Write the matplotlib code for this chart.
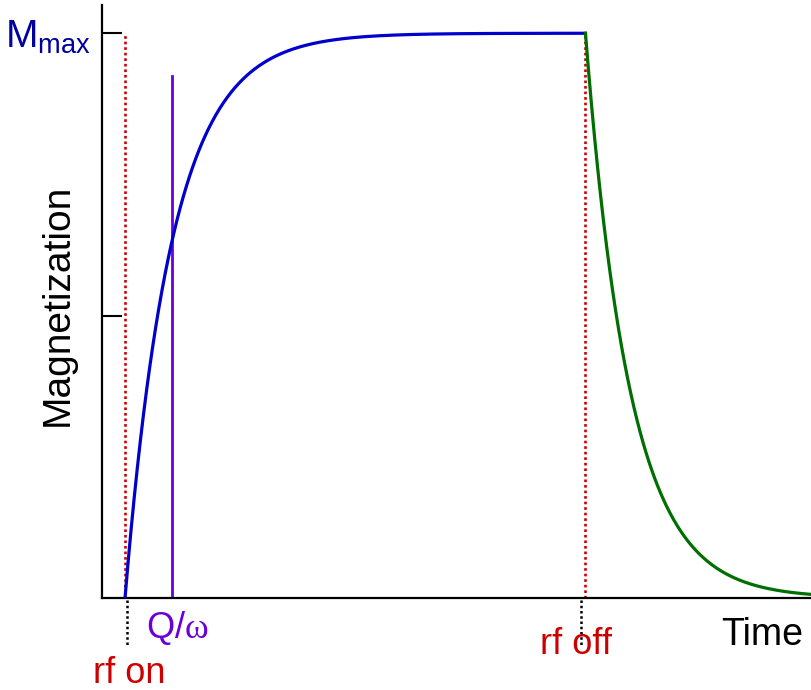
import matplotlib.pyplot as plt
import numpy as np

plt.rcParams['font.family'] = ['Liberation Sans', 'DejaVu Sans']
plt.rcParams['mathtext.fontset'] = 'custom'
plt.rcParams['mathtext.rm'] = 'Liberation Sans'
plt.rcParams['mathtext.it'] = 'Liberation Serif'

# Времена в единицах постоянной времени накачки
rf_on = 0.0
rf_off = 9.8
tau_rise = 1.0      # Q/omega
tau_fall = 0.95
m_max = 1.0
q_line_top = 0.924

t_start, t_end = -0.49, 14.6

t_rise = np.linspace(rf_on, rf_off, 600)
m_rise = m_max * (1 - np.exp(-(t_rise - rf_on) / tau_rise))
t_fall = np.linspace(rf_off, t_end, 300)
m_fall = m_rise[-1] * np.exp(-(t_fall - rf_off) / tau_fall)

fig = plt.figure(figsize=(8.11, 6.90), dpi=100)
ax = fig.add_axes([102 / 811, 92 / 690, 709 / 811, 593 / 690])

ax.plot(t_rise, m_rise, color='#0000cc', lw=2.3, zorder=3)
ax.plot(t_fall, m_fall, color='#006e00', lw=2.3, zorder=3)

# Красные пунктиры: включение и выключение накачки
for t in (rf_on, rf_off):
    ax.plot([t, t], [0, m_max], color='#cc0000', lw=1.9,
            linestyle=(0, (1, 1.1)), zorder=2)

# Фиолетовая отметка Q/omega
ax.plot([rf_on + tau_rise] * 2, [0, q_line_top], color='#6a00d8', lw=2.0, zorder=2)

ax.set_xlim(t_start, t_end)
ax.set_ylim(0, 1.05)

ax.spines['top'].set_visible(False)
ax.spines['right'].set_visible(False)
for side in ('left', 'bottom'):
    ax.spines[side].set_linewidth(1.6)

ax.set_xticks([])
ax.set_yticks([0.5, m_max])
ax.set_yticklabels(['', r'$\mathregular{M_{max}}$'], color='#0000a0', fontsize=28)
ax.tick_params(axis='y', direction='in', length=14.5, width=1.5, pad=8)

ax.set_ylabel('Magnetization', fontsize=28)
ax.yaxis.set_label_coords(-0.037, 0.495)

trans = ax.get_xaxis_transform()
# Черные пунктирные засечки под осью
for t in (0.04, 9.70):
    ax.plot([t, t], [-0.004, -0.08], color='black', lw=1.8,
            linestyle=(0, (1, 1.1)), transform=trans, clip_on=False)

ax.text(0.09, -0.128, 'rf on', color='#cc0000', fontsize=26,
        ha='center', va='center', transform=trans)
ax.text(9.6, -0.078, 'rf off', color='#cc0000', fontsize=26,
        ha='center', va='center', transform=trans)
ax.text(1.12, -0.05, r'Q/$\omega$', color='#6a00d8', fontsize=26,
        ha='center', va='center', transform=trans)
ax.text(13.55, -0.063, 'Time', color='black', fontsize=27,
        ha='center', va='center', transform=trans)

fig.savefig('out.png', dpi=100)
